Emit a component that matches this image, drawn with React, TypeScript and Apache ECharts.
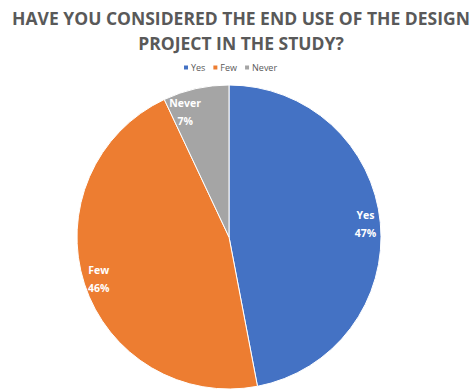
import React, { useEffect, useRef } from "react";
import * as echarts from "echarts";

const categories = ["Yes", "Few", "Never"];
const values = [47, 46, 7];
const colors = ["#4472C4", "#ED7D31", "#A5A5A5"];
const titleText = "HAVE YOU CONSIDERED THE END USE OF THE DESIGN\nPROJECT IN THE STUDY?";

export default function App() {
  const ref = useRef<HTMLDivElement>(null);
  useEffect(() => {
    document.body.style.margin = "0";
    const chart = echarts.init(ref.current!, null, { renderer: "svg" });
    const data = categories.map((c, i) => ({ name: c, value: values[i], itemStyle: { color: colors[i] } }));
    chart.setOption({
      animation: false,
      title: {
        text: titleText,
        left: 236,
        textAlign: "center",
        top: 0,
        textStyle: {
          fontFamily: "Open Sans",
          fontWeight: "bold",
          fontSize: 17.5,
          lineHeight: 25,
          color: "#595959",
        },
      },
      legend: {
        data: categories,
        top: 58,
        left: 177,
        itemWidth: 6,
        itemHeight: 6,
        itemGap: 6,
        icon: "rect",
        textStyle: { fontFamily: "Open Sans", fontSize: 9, color: "#595959", padding: [0, 0, 0, -3] },
      },
      series: [
        {
          type: "pie",
          center: [229, 237],
          radius: [0, 152],
          startAngle: 90,
          clockwise: true,
          data,
          label: { show: false },
          labelLine: { show: false },
          itemStyle: { borderColor: "#ffffff", borderWidth: 1 },
          silent: true,
        },
        {
          type: "pie",
          center: [229, 237],
          radius: [116, 152],
          startAngle: 90,
          clockwise: true,
          data: categories.map((c, i) => ({
            name: c,
            value: values[i],
            label: c === "Never" ? { offset: [-14, 9] } : undefined,
          })),
          itemStyle: { color: "rgba(0,0,0,0)" },
          silent: true,
          legendHoverLink: false,
          label: {
            show: true,
            position: "inside",
            formatter: "{b}\n{d}%",
            color: "#ffffff",
            fontFamily: "Open Sans",
            fontWeight: "bold",
            fontSize: 10.5,
            lineHeight: 18,
          },
          labelLine: { show: false },
        },
      ],
    });
    return () => chart.dispose();
  }, []);
  return <div ref={ref} style={{ width: 473, height: 391 }} />;
}
